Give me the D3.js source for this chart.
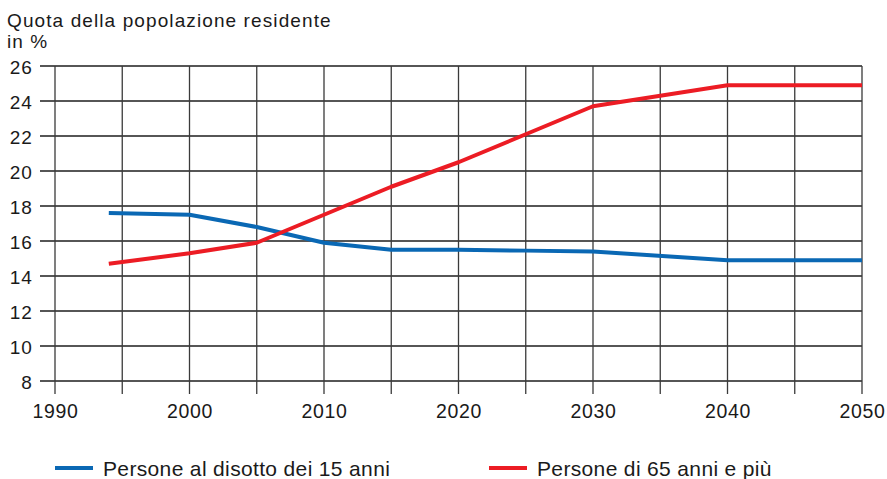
<!DOCTYPE html>
<html>
<head>
<meta charset="UTF-8">
<title>Quota della popolazione residente</title>
<script src="https://d3js.org/d3.v7.min.js"></script>
<style>
  body {margin: 0; background: #fff;}
  text {font-family: "Liberation Sans", Arial, sans-serif; fill: #1a1a1a;}
  .title {font-size: 19px; letter-spacing: 1.1px;}
  .ytick {font-size: 19px; letter-spacing: 1.1px;}
  .xtick {font-size: 19.5px; letter-spacing: 0.65px;}
  .legend {font-size: 21px; letter-spacing: 0.35px;}
</style>
</head>
<body>
<div id="chart"></div>
<script>
var years = [1994, 2000, 2005, 2010, 2015, 2020, 2025, 2030, 2040, 2050];
var under15 = [17.6, 17.5, 16.8, 15.9, 15.5, 15.5, 15.45, 15.4, 14.9, 14.9];
var over65 = [14.7, 15.3, 15.9, 17.5, 19.1, 20.5, 22.1, 23.7, 24.9, 24.9];
var yTicks = [8, 10, 12, 14, 16, 18, 20, 22, 24, 26];
var xLabels = [1990, 2000, 2010, 2020, 2030, 2040, 2050];
var xGrid = d3.range(1990, 2051, 5);
var titleLines = ["Quota della popolazione residente", "in %"];
var seriesNames = ["Persone al disotto dei 15 anni", "Persone di 65 anni e più"];
var colors = ["#0a68b4", "#ec1c24"];

var width = 887, height = 479;

var x = d3.scaleLinear().domain([1990, 2050]).range([55, 862]);
var y = d3.scaleLinear().domain([8, 26]).range([381, 66]);

var svg = d3.select("#chart").append("svg")
    .attr("width", width)
    .attr("height", height);

// title, two lines
svg.append("g").selectAll("text")
    .data(titleLines).enter().append("text")
    .attr("class", "title")
    .attr("x", 7)
    .attr("y", function(d, i) {return 26.5 + i * 21.5})
    .text(function(d) {return d});

// horizontal grid
svg.append("g").selectAll("line")
    .data(yTicks).enter().append("line")
    .attr("x1", 40).attr("x2", 862)
    .attr("y1", function(d) {return y(d)}).attr("y2", function(d) {return y(d)})
    .attr("stroke", "#1e1e1e").attr("stroke-width", 1.4);

// vertical grid
svg.append("g").selectAll("line")
    .data(xGrid).enter().append("line")
    .attr("x1", function(d) {return x(d)}).attr("x2", function(d) {return x(d)})
    .attr("y1", y(26)).attr("y2", 394)
    .attr("stroke", "#3a3a3a").attr("stroke-width", 1.3);

// y labels
svg.append("g").selectAll("text")
    .data(yTicks).enter().append("text")
    .attr("class", "ytick")
    .attr("x", 33).attr("y", function(d) {return y(d) + 7.5})
    .attr("text-anchor", "end")
    .text(function(d) {return d});

// x labels
svg.append("g").selectAll("text")
    .data(xLabels).enter().append("text")
    .attr("class", "xtick")
    .attr("x", function(d) {return x(d) + 0.5}).attr("y", 418)
    .attr("text-anchor", "middle")
    .text(function(d) {return d});

// lines
var line = d3.line()
    .x(function(d, i) {return x(years[i])})
    .y(function(d) {return y(d)});

[under15, over65].forEach(function(s, i) {
  svg.append("path")
      .attr("d", line(s))
      .attr("fill", "none")
      .attr("stroke", colors[i])
      .attr("stroke-width", 4)
      .attr("stroke-linejoin", "round");
});

// legend
var legendX = [55, 489];
seriesNames.forEach(function(name, i) {
  var g = svg.append("g").attr("transform", "translate(" + legendX[i] + ",468)");
  g.append("line").attr("x1", 0).attr("x2", 38).attr("y1", 0).attr("y2", 0)
      .attr("stroke", colors[i]).attr("stroke-width", 4);
  g.append("text").attr("class", "legend").attr("x", 48).attr("y", 7.5).text(name);
});
</script>
</body>
</html>
